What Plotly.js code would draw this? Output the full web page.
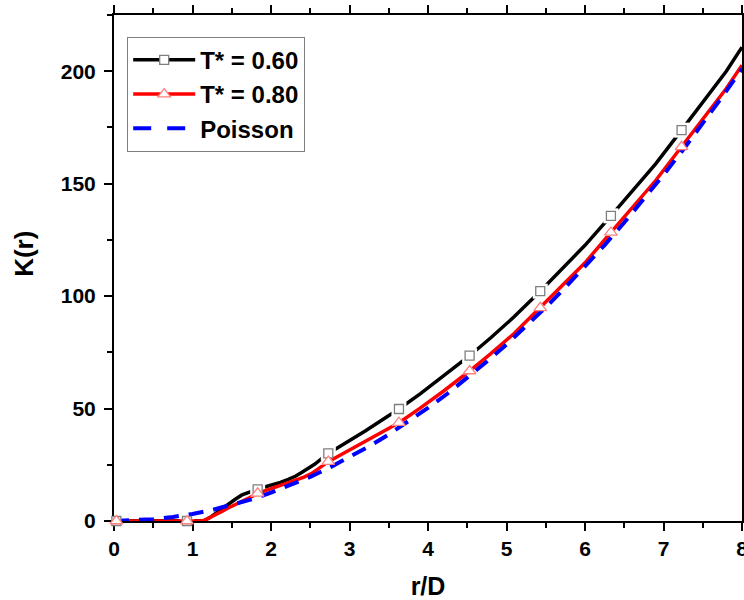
<!DOCTYPE html>
<html>
<head>
<meta charset="utf-8">
<script src="https://cdn.plot.ly/plotly-3.0.1.min.js"></script>
<style>html,body{margin:0;padding:0;background:#fff;}#chart{width:744px;height:600px;}</style>
</head>
<body>
<div id="chart"></div>
<script>
// ---- data ----
const seriesNames = ["T* = 0.60", "T* = 0.80", "Poisson"];

const xT060 = [0, 0.03, 0.5, 0.93, 1.0, 1.15, 1.22, 1.3, 1.38, 1.46, 1.55, 1.63, 1.73, 1.83, 1.92, 2.01, 2.12, 2.22, 2.31, 2.39, 2.48, 2.56, 2.65, 2.73, 2.85, 3.0, 3.2, 3.4, 3.63, 3.9, 4.2, 4.53, 4.8, 5.1, 5.43, 5.7, 6.0, 6.33, 6.6, 6.9, 7.23, 7.5, 7.8, 8.0];
const yT060 = [0, 0, 0, 0, 0, 0.2, 1.5, 3.6, 5.7, 7.6, 9.8, 11.6, 13.0, 14.1, 15.1, 16.0, 17.2, 18.5, 19.9, 21.6, 23.4, 25.3, 27.9, 30.1, 32.6, 35.7, 40.0, 44.6, 49.8, 56.5, 64.5, 73.5, 81.5, 90.9, 102.2, 111.7, 122.6, 135.7, 146.4, 158.8, 173.8, 186.0, 200.0, 210.7];

const xT080 = [0, 0.03, 0.5, 0.93, 1.0, 1.1, 1.16, 1.22, 1.29, 1.38, 1.46, 1.55, 1.63, 1.73, 1.83, 1.96, 2.09, 2.2, 2.31, 2.42, 2.52, 2.62, 2.73, 2.85, 3.0, 3.2, 3.4, 3.63, 3.9, 4.2, 4.53, 4.8, 5.1, 5.43, 5.7, 6.0, 6.33, 6.6, 6.9, 7.23, 7.5, 7.8, 8.0];
const yT080 = [0, 0, 0, 0, 0, 0, 0.4, 1.4, 2.7, 4.4, 5.9, 7.3, 8.6, 10.4, 12.3, 13.8, 15.3, 16.6, 17.9, 19.5, 21.2, 23.6, 26.4, 28.7, 31.6, 35.6, 39.3, 43.7, 50.2, 57.8, 66.7, 74.4, 83.5, 94.8, 104.0, 114.8, 128.3, 139.0, 151.4, 166.4, 178.4, 192.3, 202.7];

const xPoisson = [0, 0.25, 0.5, 0.75, 1.0, 1.25, 1.5, 1.75, 2.0, 2.25, 2.5, 2.75, 3.0, 3.25, 3.5, 3.75, 4.0, 4.25, 4.5, 4.75, 5.0, 5.25, 5.5, 5.75, 6.0, 6.25, 6.5, 6.75, 7.0, 7.25, 7.5, 7.75, 8.0];
const yPoisson = [0, 0.2, 0.8, 1.8, 3.1, 4.9, 7.1, 9.6, 12.6, 15.9, 19.6, 23.8, 28.3, 33.2, 38.5, 44.2, 50.3, 56.7, 63.6, 70.9, 78.5, 86.6, 95.0, 103.9, 113.1, 122.7, 132.7, 143.1, 153.9, 165.1, 176.7, 188.7, 201.1];

// x positions where symbols sit on the two simulation curves
const markerX = [0.03, 0.93, 1.83, 2.73, 3.63, 4.53, 5.43, 6.33, 7.23];

const xTicks = [0, 1, 2, 3, 4, 5, 6, 7, 8];
const yTicks = [0, 50, 100, 150, 200];
const xTitle = "r/D";
const yTitle = "K(r)";

// ---- build traces ----
function pick(xs, ys, at) {
  const px = [], py = [];
  at.forEach(v => { const i = xs.indexOf(v); if (i >= 0) { px.push(xs[i]); py.push(ys[i]); } });
  return {x: px, y: py};
}
const mBlack = pick(xT060, yT060, markerX);
const mRed = pick(xT080, yT080, markerX);

const FONT = "Liberation Sans, Arial, Helvetica, sans-serif";
const sqMarker = {symbol: "square", size: 9, color: "#ffffff", line: {color: "#7f7f7f", width: 1.3}};
const triMarker = {symbol: "triangle-up", size: 11, color: "#ffffff", line: {color: "#ff7f7f", width: 1.3}};

const traces = [
  {x: xT060, y: yT060, mode: "lines", line: {color: "#000000", width: 3.5}, showlegend: false, hoverinfo: "skip"},
  {x: mBlack.x, y: mBlack.y, mode: "markers", marker: {symbol: "square", size: 15, color: "#ffffff", line: {width: 0}}, showlegend: false, hoverinfo: "skip"},
  {x: xT080, y: yT080, mode: "lines", line: {color: "#ff0000", width: 3.5}, showlegend: false, hoverinfo: "skip"},
  {x: mRed.x, y: mRed.y, mode: "markers", marker: {symbol: "triangle-up", size: 13, color: "#ffffff", line: {width: 0}}, showlegend: false, hoverinfo: "skip"},
  {x: xPoisson, y: yPoisson, mode: "lines", line: {color: "#0000ff", width: 4, dash: "15px,10px"}, showlegend: false, hoverinfo: "skip"},
  {x: mBlack.x, y: mBlack.y, mode: "markers", marker: sqMarker, showlegend: false, cliponaxis: false},
  {x: mRed.x, y: mRed.y, mode: "markers", marker: triMarker, showlegend: false, cliponaxis: false},
  // legend entries
  {x: [null], y: [null], name: seriesNames[0], mode: "lines+markers", line: {color: "#000000", width: 3.5}, marker: sqMarker},
  {x: [null], y: [null], name: seriesNames[1], mode: "lines+markers", line: {color: "#ff0000", width: 3.5}, marker: triMarker},
  {x: [null], y: [null], name: seriesNames[2], mode: "lines", line: {color: "#0000ff", width: 4, dash: "18px,16px"}}
];

const axisCommon = {
  showline: true, linecolor: "#000", linewidth: 2, mirror: "allticks",
  ticks: "outside", ticklen: 8, tickwidth: 2, tickcolor: "#000",
  showgrid: false, zeroline: false,
  tickfont: {family: FONT, size: 21, color: "#000", weight: "bold"},
  ticklabeloverflow: "allow",
  layer: "below traces"
};

const layout = {
  width: 744, height: 600,
  margin: {l: 114, r: 2, t: 15, b: 79, pad: 0},
  paper_bgcolor: "#fff", plot_bgcolor: "#fff",
  font: {family: FONT, color: "#000"},
  xaxis: Object.assign({}, axisCommon, {
    range: [0, 8], tickmode: "array", tickvals: xTicks, ticktext: xTicks.map(String),
    minor: {dtick: 0.5, ticks: "outside", ticklen: 5, tickwidth: 2, tickcolor: "#000"},
    title: {text: xTitle, font: {family: FONT, size: 25, color: "#000", weight: "bold"}, standoff: 20}
  }),
  yaxis: Object.assign({}, axisCommon, {
    range: [0, 225], tickmode: "array", tickvals: yTicks, ticktext: yTicks.map(String),
    ticklabelstandoff: 4,
    minor: {dtick: 25, ticks: "outside", ticklen: 5, tickwidth: 2, tickcolor: "#000"},
    title: {text: ""}
  }),
  annotations: [{
    text: yTitle, xref: "paper", yref: "paper", x: -0.1433, y: 0.528,
    xanchor: "center", yanchor: "middle", textangle: -90, showarrow: false,
    font: {family: FONT, size: 26, color: "#000", weight: "bold"}
  }],
  legend: {
    x: 0.021, y: 0.957, xanchor: "left", yanchor: "top",
    bgcolor: "#fff", bordercolor: "#7f7f7f", borderwidth: 1,
    font: {family: FONT, size: 24, color: "#000", weight: "bold"},
    itemwidth: 62, tracegroupgap: 0
  },
  showlegend: true
};

Plotly.newPlot("chart", traces, layout, {staticPlot: true, displayModeBar: false});
</script>
</body>
</html>
